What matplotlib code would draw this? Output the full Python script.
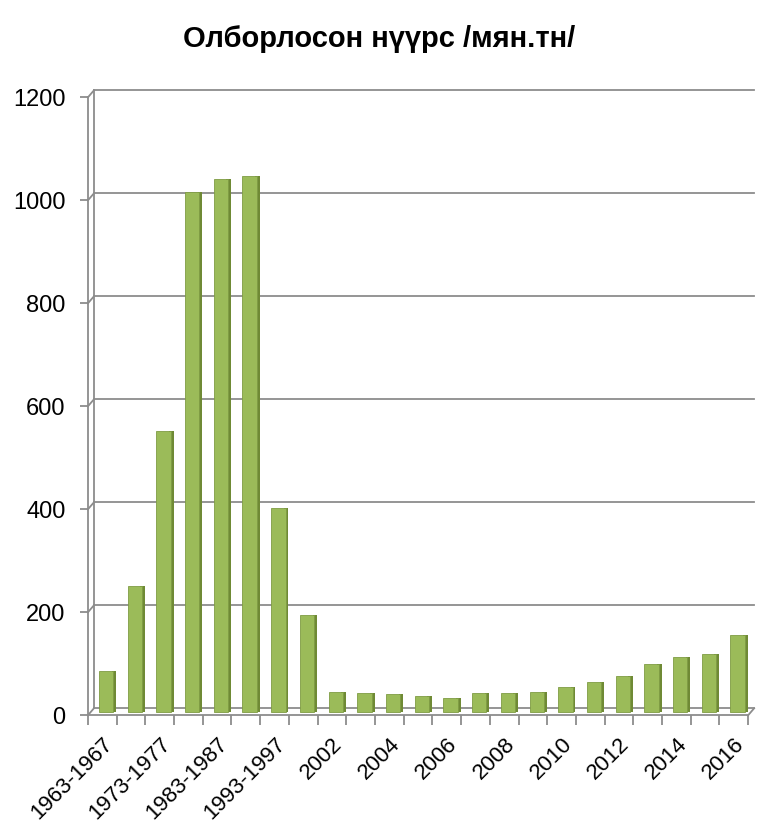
import numpy as np
import matplotlib.pyplot as plt
import matplotlib.transforms as mtransforms

plt.rcParams['font.family'] = ['Liberation Sans', 'DejaVu Sans']

# --- Datos ---
periods = ["1963-1967", "1968-1972", "1973-1977", "1978-1982", "1983-1987",
           "1988-1992", "1993-1997", "1998-2001"] + [str(y) for y in range(2002, 2017)]
values = [80, 245, 545, 1010, 1035, 1040, 395, 188,
          38, 36, 34, 31, 27, 37, 37, 38, 48, 57, 70, 93, 106, 113, 150]
yticks = [0, 200, 400, 600, 800, 1000, 1200]

GREEN = "#9bbb59"
SIDE = "#6f8a35"
GRID = "#8c8c8c"

fig = plt.figure(figsize=(7.58, 8.25), dpi=100)
ax = fig.add_axes([0.116, 0.133, 0.871, 0.749])

n = len(values)
x = np.arange(n)
ax.set_xlim(-0.5, n - 0.5)
ax.set_ylim(0, 1200)

# desplazamiento del plano trasero (efecto 3D de Excel)
DX, DY = 6, 7  # px
back = ax.transData + mtransforms.ScaledTranslation(DX/100, DY/100, fig.dpi_scale_trans)
half = ax.transData + mtransforms.ScaledTranslation(DX/200, DY/200, fig.dpi_scale_trans)
ax_w = 0.871 * 758
ax_h = 0.749 * 825
ddx = DX / (ax_w / n)
ddy = DY / (ax_h / 1200)

# rejilla en plano trasero + diagonales
for t in yticks:
    ax.plot([-0.5, n - 0.5], [t, t], color=GRID, lw=1.3,
            transform=back, clip_on=False, zorder=1)
    ax.plot([-0.5, -0.5 + ddx], [t, t + ddy], color=GRID, lw=1.3, clip_on=False, zorder=1)
ax.plot([-0.5, -0.5], [0, 1200], color=GRID, lw=1.3, transform=back, clip_on=False, zorder=1)
# suelo
ax.plot([-0.5, n - 0.5], [0, 0], color=GRID, lw=1.3, clip_on=False, zorder=4)
ax.plot([n - 0.5, n - 0.5 + ddx], [0, ddy], color=GRID, lw=1.3, clip_on=False, zorder=4)

# barras con cara lateral más oscura
ax.bar(x + 0.3, values, width=0.16, color=SIDE, transform=half, zorder=2)
ax.bar(x + 0.03, values, width=0.5, color=GREEN, edgecolor="#7f9c44", lw=0.6,
       transform=half, zorder=3)

for s in ["top", "right", "bottom"]:
    ax.spines[s].set_visible(False)
ax.spines["left"].set_color(GRID)
ax.spines["left"].set_linewidth(1.3)

ax.set_yticks(yticks)
ax.set_yticklabels([str(t) for t in yticks], fontsize=17)
ax.tick_params(axis="y", length=6, color=GRID, width=1.3, pad=10)

ax.set_xticks(x[::2])
ax.set_xticklabels(periods[::2], rotation=45, ha="right", rotation_mode="anchor", fontsize=16)
ax.set_xticks(np.arange(-0.5, n), minor=True)
ax.tick_params(axis="x", which="major", length=0, pad=13)
ax.tick_params(axis="x", which="minor", length=7, color=GRID, width=1.3)

fig.text(0.5, 0.953, "Олборлосон нүүрс /мян.тн/", ha="center", va="center",
         fontsize=21, fontweight="bold")

fig.savefig("out.png", dpi=100)
